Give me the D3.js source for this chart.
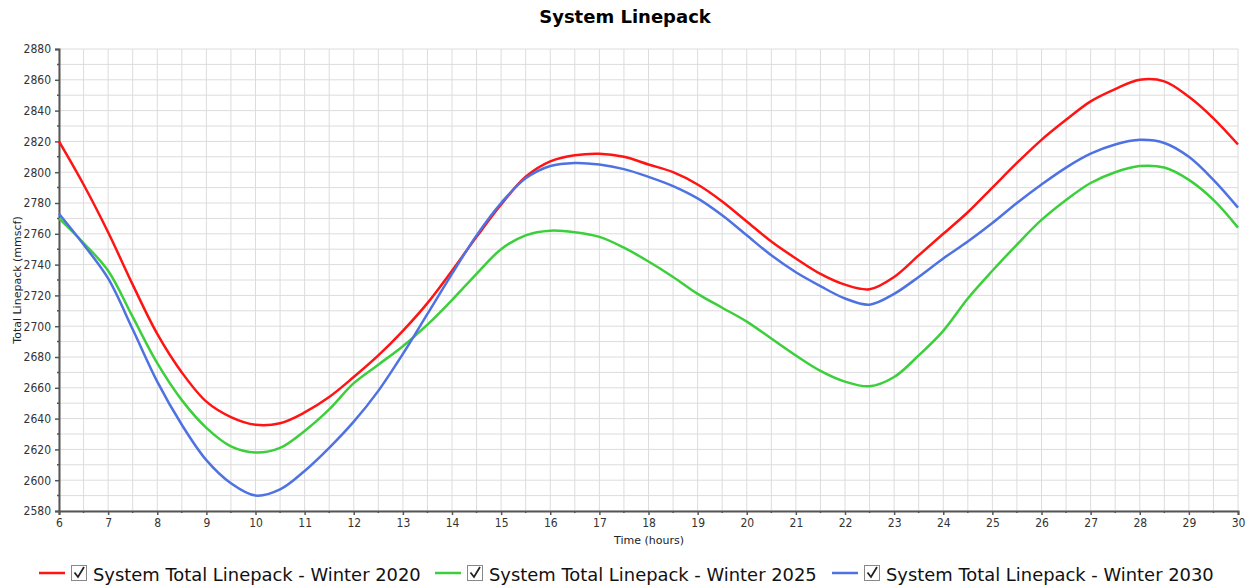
<!DOCTYPE html>
<html>
<head>
<meta charset="utf-8">
<script src="https://cdn.jsdelivr.net/npm/d3@7"></script>
<style>
  body { margin: 0; background: #fff; }
  svg { font-family: "DejaVu Sans", Verdana, sans-serif; }
</style>
</head>
<body>
<svg id="chart" width="1250" height="588"></svg>
<script>
// time axis (hours), half-hour samples
var hours = d3.range(6, 30.001, 0.5);

var winter2020 = [2820, 2792, 2761, 2727, 2695, 2670, 2651, 2641, 2636, 2637,
  2644, 2654, 2667, 2681, 2697, 2715, 2736, 2758, 2779, 2797,
  2807, 2811, 2812, 2810, 2805, 2800, 2792, 2781, 2768, 2755,
  2744, 2734, 2727, 2724, 2732, 2746, 2760, 2774, 2790, 2806,
  2821, 2834, 2846, 2854, 2860, 2859, 2849, 2835, 2818];

var winter2025 = [2770, 2754, 2736, 2706, 2676, 2652, 2634, 2622, 2618, 2621,
  2632, 2646, 2663, 2675, 2687, 2701, 2717, 2734, 2750, 2759,
  2762, 2761, 2758, 2751, 2742, 2732, 2721, 2712, 2703, 2692,
  2681, 2671, 2664, 2661, 2667, 2681, 2697, 2718, 2736, 2753,
  2769, 2782, 2793, 2800, 2804, 2803, 2795, 2782, 2764];

var winter2030 = [2773, 2753, 2731, 2698, 2664, 2636, 2613, 2598, 2590, 2594,
  2606, 2621, 2638, 2658, 2682, 2708, 2734, 2759, 2780, 2796,
  2804, 2806, 2805, 2802, 2797, 2791, 2783, 2772, 2759, 2746,
  2735, 2726, 2718, 2714, 2721, 2732, 2744, 2755, 2767, 2780,
  2792, 2803, 2812, 2818, 2821, 2819, 2810, 2795, 2777];

var seriesNames = ["System Total Linepack - Winter 2020",
  "System Total Linepack - Winter 2025",
  "System Total Linepack - Winter 2030"];
var seriesColors = ["#ff1414", "#3ccf3c", "#4f72e3"];
var seriesValues = [winter2020, winter2025, winter2030];

var xTicks = d3.range(6, 31, 1);
var yTicks = d3.range(2580, 2881, 20);

function draw() {
  var svg = d3.select("#chart");
  var plotLeft = 59, plotRight = 1238, plotTop = 49, plotBottom = 511;

  var x = d3.scaleLinear().domain([6, 30]).range([plotLeft, plotRight]);
  var y = d3.scaleLinear().domain([2580, 2880]).range([plotBottom, plotTop]);

  // grid (every half hour / every 10 units)
  var grid = svg.append("g");
  grid.selectAll("line.v")
    .data(d3.range(6, 30.001, 0.5))
    .enter().append("line")
    .attr("class", "v")
    .attr("x1", function(d) { return x(d); })
    .attr("x2", function(d) { return x(d); })
    .attr("y1", plotTop).attr("y2", plotBottom)
    .attr("stroke", "#dcdcdc").attr("stroke-width", 1);
  grid.selectAll("line.h")
    .data(d3.range(2580, 2881, 10))
    .enter().append("line")
    .attr("class", "h")
    .attr("x1", plotLeft).attr("x2", plotRight)
    .attr("y1", function(d) { return y(d); })
    .attr("y2", function(d) { return y(d); })
    .attr("stroke", "#dcdcdc").attr("stroke-width", 1);

  // axes
  var yAxis = svg.append("g")
    .attr("transform", "translate(" + plotLeft + ",0)")
    .call(d3.axisLeft(y).tickValues(yTicks).tickSize(4).tickPadding(4).tickFormat(d3.format("d")));
  var xAxis = svg.append("g")
    .attr("transform", "translate(0," + plotBottom + ")")
    .call(d3.axisBottom(x).tickValues(xTicks).tickSize(4).tickPadding(3).tickFormat(d3.format("d")));

  [yAxis, xAxis].forEach(function(a) {
    a.select(".domain").attr("stroke", "#555").attr("stroke-width", 2);
    a.selectAll(".tick line").attr("stroke", "#555").attr("stroke-width", 1.5);
    a.selectAll("text").attr("fill", "#333").style("font-size", "12px")
      .style("font-family", "DejaVu Sans Condensed, DejaVu Sans, sans-serif");
  });

  // minor ticks
  svg.append("g").selectAll("line")
    .data(d3.range(2590, 2880, 20))
    .enter().append("line")
    .attr("x1", plotLeft - 2).attr("x2", plotLeft)
    .attr("y1", function(d) { return y(d); }).attr("y2", function(d) { return y(d); })
    .attr("stroke", "#555").attr("stroke-width", 1.5);
  svg.append("g").selectAll("line")
    .data(d3.range(6.5, 30, 1))
    .enter().append("line")
    .attr("x1", function(d) { return x(d); }).attr("x2", function(d) { return x(d); })
    .attr("y1", plotBottom).attr("y2", plotBottom + 2)
    .attr("stroke", "#555").attr("stroke-width", 1.5);

  // series lines
  var line = d3.line()
    .x(function(d) { return x(d[0]); })
    .y(function(d) { return y(d[1]); })
    .curve(d3.curveCatmullRom.alpha(0.5));

  svg.append("g").selectAll("path")
    .data(seriesValues)
    .enter().append("path")
    .attr("d", function(vals) { return line(hours.map(function(h, i) { return [h, vals[i]]; })); })
    .attr("fill", "none")
    .attr("stroke", function(d, i) { return seriesColors[i]; })
    .attr("stroke-width", 2.5);

  // titles
  svg.append("text")
    .attr("x", 625).attr("y", 23)
    .attr("text-anchor", "middle")
    .style("font-size", "18px").style("font-weight", "bold")
    .text("System Linepack");

  svg.append("text")
    .attr("transform", "translate(21,280) rotate(-90)")
    .attr("text-anchor", "middle")
    .style("font-size", "11px")
    .attr("fill", "#222")
    .text("Total Linepack (mmscf)");

  svg.append("text")
    .attr("x", 649).attr("y", 544)
    .attr("text-anchor", "middle")
    .style("font-size", "11px")
    .attr("fill", "#222")
    .text("Time (hours)");

  // legend
  var legendX = [39, 435, 832];
  var legend = svg.append("g").selectAll("g")
    .data(seriesNames)
    .enter().append("g")
    .attr("transform", function(d, i) { return "translate(" + legendX[i] + ",573)"; });

  legend.append("line")
    .attr("x1", 0).attr("x2", 26).attr("y1", 0).attr("y2", 0)
    .attr("stroke", function(d, i) { return seriesColors[i]; })
    .attr("stroke-width", 2.5);
  legend.append("rect")
    .attr("x", 32.5).attr("y", -7.5).attr("width", 15).attr("height", 15)
    .attr("fill", "#fff").attr("stroke", "#888").attr("stroke-width", 1);
  legend.append("path")
    .attr("d", "M35.5,-0.5 L39,4 L45,-6")
    .attr("fill", "none").attr("stroke", "#222").attr("stroke-width", 1.8);
  legend.append("text")
    .attr("x", 54).attr("y", 8)
    .style("font-size", "20px")
    .attr("fill", "#111")
    .text(function(d) { return d; })
    .each(function() {
      var w = this.getComputedTextLength();
      var fs = 20 * 328 / w;
      d3.select(this).style("font-size", fs + "px");
    });
}

draw();
</script>
</body>
</html>
